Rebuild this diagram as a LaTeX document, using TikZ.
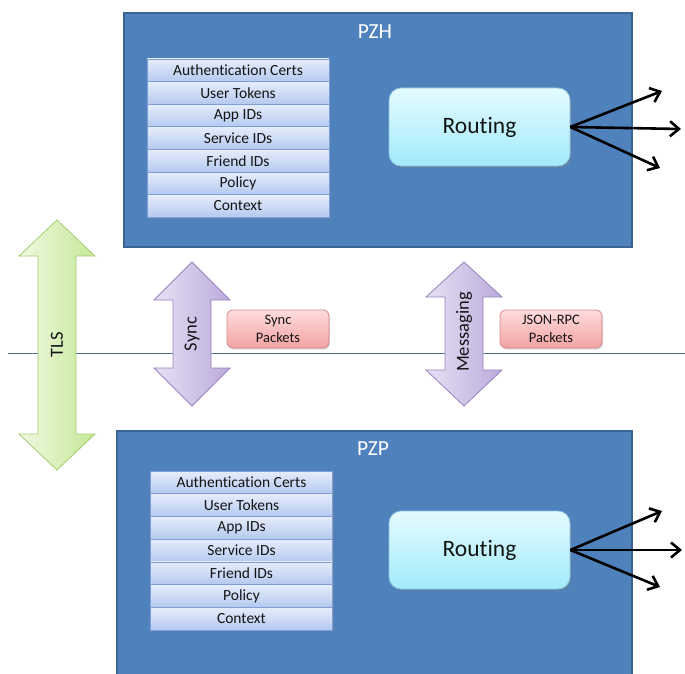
\documentclass[tikz,border=0pt]{standalone}
\usepackage{fontspec}
\setmainfont[Ligatures=NoCommon]{Carlito}
\usetikzlibrary{arrows.meta,shadows}

\definecolor{zoneblue}{HTML}{4F81BD}
\definecolor{zoneedge}{HTML}{3A6494}
\definecolor{celltop}{HTML}{E6EDFB}
\definecolor{cellbot}{HTML}{B4C9F0}
\definecolor{celledge}{HTML}{7E9ED6}
\definecolor{routetop}{HTML}{E4FBFF}
\definecolor{routebot}{HTML}{A2EBFB}
\definecolor{routeedge}{HTML}{8CC3DC}
\definecolor{lilacl}{HTML}{E7E1F4}
\definecolor{lilacr}{HTML}{BBAADB}
\definecolor{lilacedge}{HTML}{9683BF}
\definecolor{greenl}{HTML}{F0F9E1}
\definecolor{greenr}{HTML}{C5E897}
\definecolor{greenedge}{HTML}{A5CC6E}
\definecolor{pinktop}{HTML}{FFDCDC}
\definecolor{pinkbot}{HTML}{F2A2A2}
\definecolor{pinkedge}{HTML}{D68A8A}
\definecolor{divider}{HTML}{4E6E8E}
\definecolor{ink}{HTML}{141414}

\tikzset{
  zone/.style={draw=zoneedge, line width=2pt, fill=zoneblue},
  zonelabel/.style={text=white, font=\fontsize{21.5}{24}\selectfont},
  cell/.style={draw=celledge, line width=0.6pt, top color=celltop, bottom color=cellbot,
    minimum width=182pt, inner sep=0pt, text=ink, font=\fontsize{15.5}{18}\selectfont,
    drop shadow={shadow xshift=1pt, shadow yshift=-1.5pt, opacity=0.35}},
  router/.style={draw=routeedge, line width=0.8pt, top color=routetop, bottom color=routebot,
    rounded corners=12pt, minimum width=181pt, minimum height=78pt,
    text=ink, font=\fontsize{23.5}{26}\selectfont,
    drop shadow={shadow xshift=1.5pt, shadow yshift=-2pt, opacity=0.35}},
  fanout/.style={line width=2.6pt, -{Straight Barb[length=9pt,width=15pt,line width=2.6pt]}},
  syncarrow/.style={draw=lilacedge, line width=0.8pt, left color=lilacl, right color=lilacr},
  tlsarrow/.style={draw=greenedge, line width=0.8pt, left color=greenl, right color=greenr},
  shafttext/.style={rotate=90, text=ink, font=\fontsize{18.5}{20}\selectfont},
  packet/.style={draw=pinkedge, line width=0.8pt, top color=pinktop, bottom color=pinkbot,
    rounded corners=6pt, minimum width=102pt, minimum height=38pt, inner sep=0pt,
    align=center, text=ink, font=\fontsize{14.5}{18}\selectfont,
    drop shadow={shadow xshift=1pt, shadow yshift=-1.5pt, opacity=0.3}},
}

\begin{document}
\begin{tikzpicture}[x=1pt, y=-1pt]
\useasboundingbox (0,0) rectangle (685,674);

% dividing line between the two zones
\draw[divider, line width=0.8pt] (8,353) coordinate (lineL) -- (685,353) coordinate (lineR);

% ---------- PZH ----------
\node[zone, anchor=north west, minimum width=508pt, minimum height=234pt, inner sep=0pt]
  (pzh) at (123,12) {};
\node[zonelabel] (pzhlabel) at (375,32) {PZH};

\foreach \name/\txt [count=\i from 0] in
  {hauth/Authentication Certs, htok/User Tokens, happ/App IDs, hsvc/Service IDs,
   hfrd/Friend IDs, hpol/Policy, hctx/Context}
  \node[cell, minimum height=22.6pt] (\name) at (238, 70.3+22.6*\i) {\txt};

\node[router] (hroute) at (479.5,127) {Routing};
\coordinate (hout1) at (662,91);
\coordinate (hout2) at (681,129);
\coordinate (hout3) at (660,168);
\foreach \t in {hout1,hout2,hout3}
  \draw[fanout] (hroute.east) -- (\t);

% ---------- PZP ----------
\node[zone, anchor=north west, minimum width=515pt, minimum height=260pt, inner sep=0pt]
  (pzp) at (116,430) {};
\node[zonelabel] (pzplabel) at (373,449) {PZP};

\foreach \name/\txt [count=\i from 0] in
  {pauth/Authentication Certs, ptok/User Tokens, papp/App IDs, psvc/Service IDs,
   pfrd/Friend IDs, ppol/Policy, pctx/Context}
  \node[cell, minimum height=22.7pt] (\name) at (241.5, 482.4+22.7*\i) {\txt};

\node[router] (proute) at (479.5,550) {Routing};
\coordinate (pout1) at (662,511);
\coordinate (pout2) at (682,550);
\coordinate (pout3) at (660,587);
\foreach \t in {pout1,pout2,pout3}
  \draw[fanout] (proute.east) -- (\t);

% ---------- channel arrows ----------
\path[tlsarrow] (57,220) -- (95,256) -- (76,256) -- (76,434) -- (95,434) -- (57,470)
  -- (19,434) -- (38,434) -- (38,256) -- (19,256) -- cycle;
\node[shafttext] (tls) at (57,345) {TLS};

\path[syncarrow] (192,262) -- (230,300) -- (211,300) -- (211,368) -- (230,368) -- (192,406)
  -- (154,368) -- (173,368) -- (173,300) -- (154,300) -- cycle;
\node[shafttext] (sync) at (192,334) {Sync};

\path[syncarrow] (464,262) -- (502,297) -- (483,297) -- (483,370) -- (502,370) -- (464,406)
  -- (426,370) -- (445,370) -- (445,297) -- (426,297) -- cycle;
\node[shafttext] (msg) at (464,332) {Messaging};

% ---------- packet labels ----------
\node[packet] (syncpk) at (278,329) {Sync\\Packets};
\node[packet] (jsonpk) at (551,329) {JSON-RPC\\Packets};
\end{tikzpicture}
\end{document}
